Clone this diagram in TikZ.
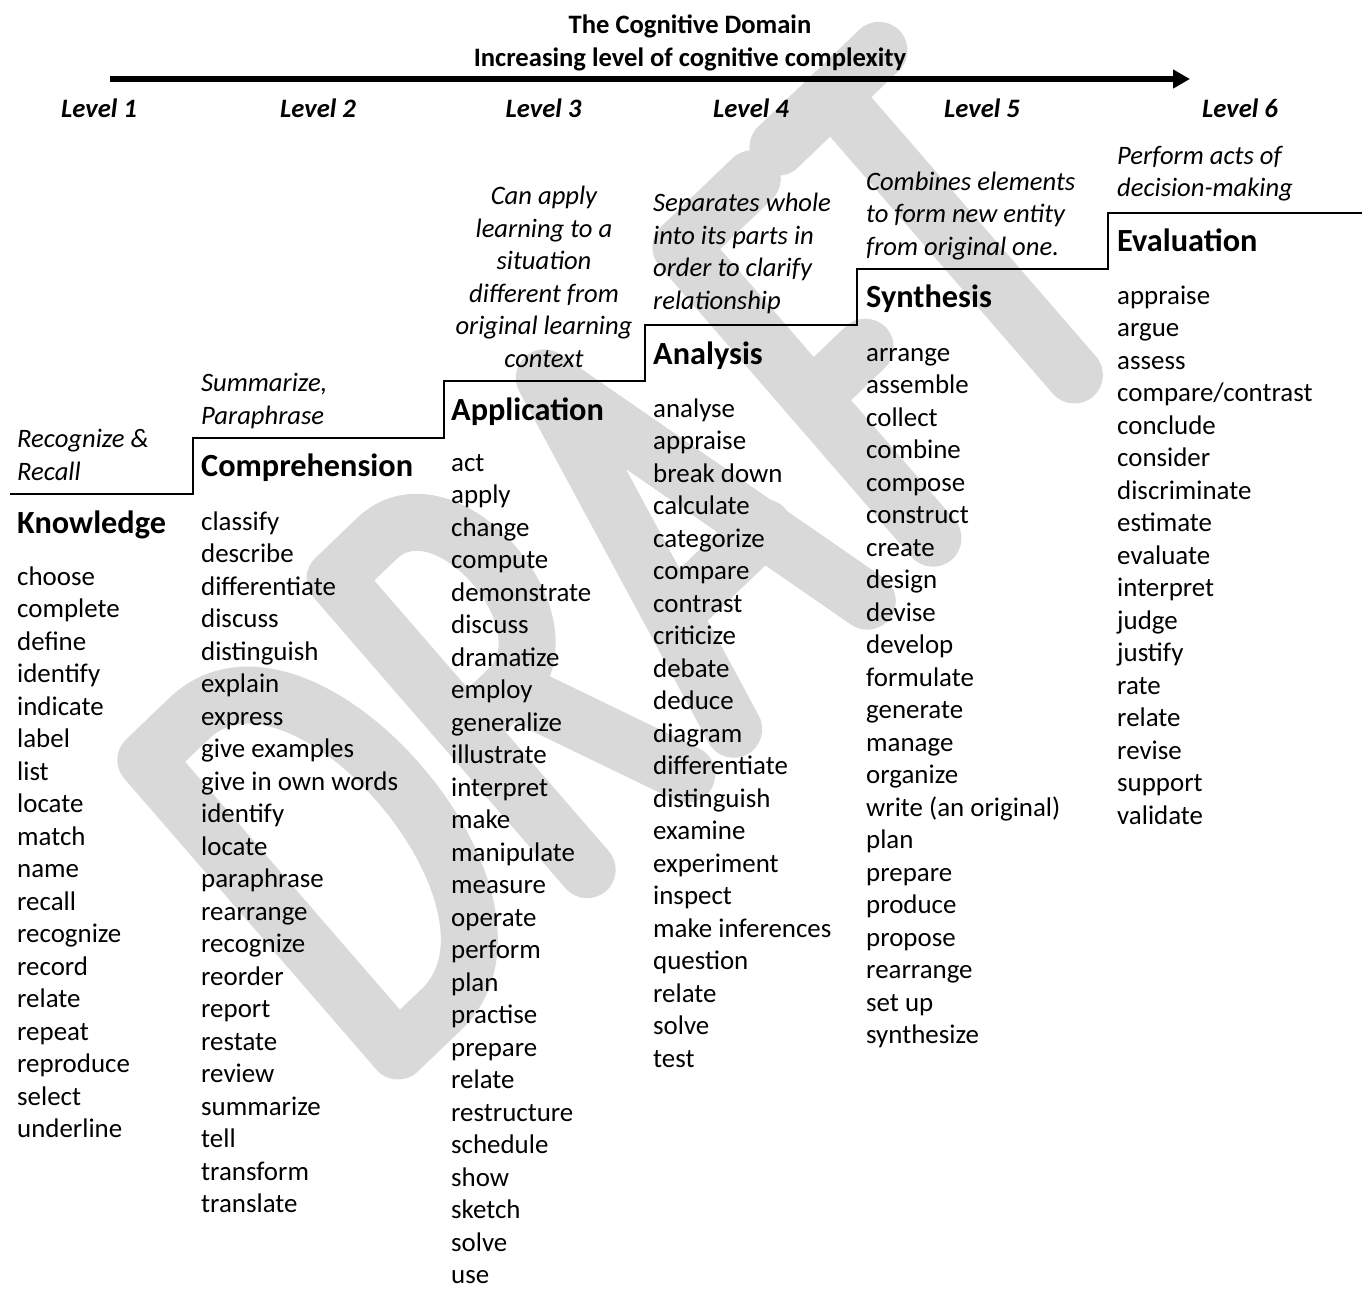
\documentclass[tikz,border=0pt]{standalone}
\usepackage{fontspec}
\setmainfont{Carlito}
\usetikzlibrary{arrows.meta}
\definecolor{wm}{RGB}{217,217,217}
\tikzset{
  word/.style={anchor=base west, inner sep=0pt, font=\fontsize{26.9}{32.5}\selectfont},
  head/.style={anchor=base west, inner sep=0pt, font=\fontsize{32.3}{38}\selectfont\bfseries},
  desc/.style={anchor=base west, inner sep=0pt, font=\fontsize{26.6}{32.5}\selectfont\itshape},
  descc/.style={desc, anchor=base},
  lvl/.style={anchor=base, inner sep=0pt, font=\fontsize{26.6}{32.5}\selectfont\bfseries\itshape},
  ttl/.style={anchor=base, inner sep=0pt, font=\fontsize{26.6}{32.5}\selectfont\bfseries},
  stair/.style={line width=2.5pt},
  wmark/.style={draw=wm, line width=57pt, line cap=round, line join=round},
}
\begin{document}
\begin{tikzpicture}[x=1pt,y=-1pt]
\useasboundingbox (0,0) rectangle (1362,1288);
% ---------- watermark "DRAFT" (stroked letters on a slanted baseline) ----------
\begin{scope}[shift={(398,1051)}, x={(0.722pt,0.692pt)}, y={(-0.655pt,0.756pt)}]
  % D
  \draw[wmark] (60,0) -- (0,0) -- (0,385) -- (60,385) .. controls (215,385) and (215,0) .. (60,0) -- cycle;
  % R
  \draw[wmark] (262,0) -- (262,385) -- (320,385) .. controls (415,385) and (415,185) .. (320,185) -- (262,185);
  \draw[wmark] (322,185) -- (400,0);
  % A
  \draw[wmark] (465,0) -- (552,385) -- (650,0);
  \draw[wmark] (495,125) -- (620,125);
  % F
  \draw[wmark] (741,0) -- (741,385) -- (840,385);
  \draw[wmark] (741,185) -- (815,185);
  % T
  \draw[wmark] (880,390) -- (1020,390);
  \draw[wmark] (955,390) -- (955,20);
\end{scope}
% ---------- title and arrow ----------
\node[ttl] (t1) at (690,33) {The Cognitive Domain};
\node[ttl] (t2) at (690,66) {Increasing level of cognitive complexity};
\coordinate (arA) at (110,79);
\coordinate (arB) at (1190,79);
\draw[line width=5.5pt, -{Triangle[length=17pt,width=18pt]}] (arA) -- (arB);
% ---------- levels ----------
\node[lvl] (L1) at (99,117) {Level 1};
\node[lvl] (L2) at (318,117) {Level 2};
\node[lvl] (L3) at (543.5,117) {Level 3};
\node[lvl] (L4) at (751,117) {Level 4};
\node[lvl] (L5) at (982,117) {Level 5};
\node[lvl] (L6) at (1240,117) {Level 6};
% ---------- staircase ----------
\draw[stair] (10,494) -- (193,494) -- (193,438) -- (444,438) -- (444,381) -- (645,381) -- (645,325) -- (857,325) -- (857,269) -- (1108,269) -- (1108,213) -- (1362,213);
% ---------- descriptions ----------
\node[desc] (d1a) at (17,447.5) {Recognize \&};
\node[desc] (d1b) at (17,480) {Recall};
\node[desc] (d2a) at (201,391.5) {Summarize,};
\node[desc] (d2b) at (201,424) {Paraphrase};
\node[descc] (d3a) at (544,204.5) {Can apply};
\node[descc] (d3b) at (544,237) {learning to a};
\node[descc] (d3c) at (544,269.5) {situation};
\node[descc] (d3d) at (544,302) {different from};
\node[descc] (d3e) at (544,334.5) {original learning};
\node[descc] (d3f) at (544,367) {context};
\node[desc] (d4a) at (653,211.5) {Separates whole};
\node[desc] (d4b) at (653,244) {into its parts in};
\node[desc] (d4c) at (653,276.5) {order to clarify};
\node[desc] (d4d) at (653,309) {relationship};
\node[desc] (d5a) at (866,190) {Combines elements};
\node[desc] (d5b) at (866,222.5) {to form new entity};
\node[desc] (d5c) at (866,255) {from original one.};
\node[desc] (d6a) at (1117,164) {Perform acts of};
\node[desc] (d6b) at (1117,196.5) {decision-making};
% ---------- headings ----------
\node[head] (h1) at (17,533) {Knowledge};
\node[head] (h2) at (201,476) {Comprehension};
\node[head] (h3) at (451,420) {Application};
\node[head] (h4) at (653,364) {Analysis};
\node[head] (h5) at (866,307) {Synthesis};
\node[head] (h6) at (1117,251) {Evaluation};
% ---------- word lists ----------
\foreach \w [count=\i] in {choose,complete,define,identify,indicate,label,list,locate,match,name,recall,recognize,record,relate,repeat,reproduce,select,underline}
  \node[word] (k\i) at (17,{585+32.5*(\i-1)}) {\w};
\foreach \w [count=\i] in {classify,describe,differentiate,discuss,distinguish,explain,express,give examples,give in own words,identify,locate,paraphrase,rearrange,recognize,reorder,report,restate,review,summarize,tell,transform,translate}
  \node[word] (c\i) at (201,{530+32.5*(\i-1)}) {\w};
\foreach \w [count=\i] in {act,apply,change,compute,demonstrate,discuss,dramatize,employ,generalize,illustrate,interpret,make,manipulate,measure,operate,perform,plan,practise,prepare,relate,restructure,schedule,show,sketch,solve,use}
  \node[word] (p\i) at (451,{471+32.5*(\i-1)}) {\w};
\foreach \w [count=\i] in {analyse,appraise,break down,calculate,categorize,compare,contrast,criticize,debate,deduce,diagram,differentiate,distinguish,examine,experiment,inspect,make inferences,question,relate,solve,test}
  \node[word] (a\i) at (653,{417+32.5*(\i-1)}) {\w};
\foreach \w [count=\i] in {arrange,assemble,collect,combine,compose,construct,create,design,devise,develop,formulate,generate,manage,organize,{write (an original)},plan,prepare,produce,propose,rearrange,set up,synthesize}
  \node[word] (s\i) at (866,{361+32.5*(\i-1)}) {\w};
\foreach \w [count=\i] in {appraise,argue,assess,compare/contrast,conclude,consider,discriminate,estimate,evaluate,interpret,judge,justify,rate,relate,revise,support,validate}
  \node[word] (e\i) at (1117,{304+32.5*(\i-1)}) {\w};
\end{tikzpicture}
\end{document}
